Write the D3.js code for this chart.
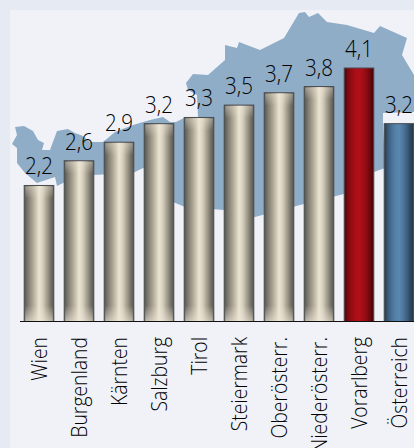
<!DOCTYPE html>
<html><head><meta charset="utf-8">
<script src="https://cdn.jsdelivr.net/npm/d3@7/dist/d3.min.js"></script>
<style>html,body{margin:0;padding:0;background:#e6ebf3;overflow:hidden}</style>
</head><body><script>
const categories = ["Wien","Burgenland","Kärnten","Salzburg","Tirol","Steiermark","Oberösterr.","Niederösterr.","Vorarlberg","Österreich"];
const values = [2.2,2.6,2.9,3.2,3.3,3.5,3.7,3.8,4.1,3.2];
const kinds = ["land","land","land","land","land","land","land","land","high","total"];
const mapOutline = [[12,144],[17,135],[15,127],[24,126],[33,131],[38,140],[44,143],[42,150],[50,150],[57,131],[68,129],[75,133],[83,136],[90,142],[103,142],[115,132],[133,125],[150,120],[163,117],[170,122],[176,122],[184,118],[198,117],[197,95],[188,90],[186,83],[193,74],[208,75],[225,60],[225,45],[237,48],[239,42],[260,50],[284,38],[299,13],[305,12],[309,17],[318,13],[327,22],[347,25],[374,33],[380,26],[407,38],[402,55],[414,75],[414,112],[383,113],[383,124],[385,168],[374,172],[344,194],[300,205],[255,217],[224,210],[185,207],[173,202],[160,180],[143,168],[133,173],[93,175],[63,183],[57,186],[55,177],[37,183],[25,173],[17,163],[17,148]];
const W=414,H=448;
const svg=d3.select("body").append("svg").attr("width",W).attr("height",H).style("display","block");
const defs=svg.append("defs");
function grad(id,cols){
  const g=defs.append("linearGradient").attr("id",id).attr("x1",0).attr("x2",1).attr("y1",0).attr("y2",0);
  cols.forEach((c,i)=>g.append("stop").attr("offset",i/(cols.length-1)).attr("stop-color",c));
}
grad("land",["#55544e","#7d7a6e","#a09a8b","#c4bdab","#ece4d3","#d6cfbd","#aaa495","#7d7a6e","#55544e"]);
grad("high",["#4a0508","#7a0a10","#960c14","#aa0e18","#b0101a","#a40e16","#8e0b12","#6a070c","#3e0306"]);
grad("total",["#25384c","#3a5a7a","#4a7096","#5480a8","#5888ae","#5078a0","#406488","#30485f","#22344a"]);
function fadeGrad(id,a,b){
  const f=defs.append("linearGradient").attr("id",id).attr("x1",0).attr("x2",0).attr("y1",0).attr("y2",1);
  f.append("stop").attr("offset",0).attr("stop-color","#efe8d8").attr("stop-opacity",a);
  f.append("stop").attr("offset",1).attr("stop-color","#efe8d8").attr("stop-opacity",b);
}
fadeGrad("fadeB",0,.65);
fadeGrad("fadeT",.4,0);

svg.append("rect").attr("x",10).attr("y",10).attr("width",W).attr("height",H).attr("fill","#f0f2f8");
svg.append("polygon").attr("points",mapOutline.map(p=>p.join(",")).join(" ")).attr("fill","#8fadc7");

const x=d3.scaleBand().domain(categories).range([19,419]).paddingInner(0.26).paddingOuter(0.13);
const baseY=321.5;
const y=d3.scaleLinear().domain([0,4.1]).range([baseY,68]);

const bars=svg.append("g");
bars.selectAll("rect.b").data(categories).join("rect").attr("class","b")
 .attr("x",d=>x(d)).attr("width",x.bandwidth())
 .attr("y",(d,i)=>y(values[i])).attr("height",(d,i)=>baseY-y(values[i]))
 .attr("fill",(d,i)=>`url(#${kinds[i]})`).attr("stroke","#4a4c50").attr("stroke-width",1);
const landCats=categories.filter((d,i)=>kinds[i]==="land");
bars.selectAll("rect.f").data(landCats).join("rect").attr("class","f")
 .attr("x",d=>x(d)+1).attr("width",x.bandwidth()-2)
 .attr("y",baseY-16).attr("height",16).attr("fill","url(#fadeB)");
bars.selectAll("rect.t").data(landCats).join("rect").attr("class","t")
 .attr("x",d=>x(d)+1).attr("width",x.bandwidth()-2)
 .attr("y",d=>y(values[categories.indexOf(d)])+1).attr("height",12).attr("fill","url(#fadeT)");

svg.append("line").attr("x1",20).attr("x2",W).attr("y1",baseY).attr("y2",baseY).attr("stroke","#111").attr("stroke-width",1);

const font="'Open Sans',sans-serif";
svg.selectAll("text.v").data(categories).join("text").attr("class","v")
 .attr("transform",(d,i)=>`translate(${x(d)+x.bandwidth()/2},${y(values[i])-11}) scale(.84,1)`)
 .attr("text-anchor","middle").attr("font-family",font).attr("font-weight",300).attr("font-size",24.5).attr("fill","#000")
 .text((d,i)=>d3.format(".1f")(values[i]).replace(".",","));

const axis=d3.axisBottom(x).tickSize(0).tickPadding(0);
const ax=svg.append("g").attr("transform",`translate(0,${baseY})`).call(axis);
ax.select(".domain").remove();
ax.selectAll("text").attr("font-family",font).attr("font-weight",300).attr("font-size",22.5).attr("fill","#000")
 .attr("text-anchor","end").attr("dy",null).attr("y",null)
 .attr("transform","translate(8,15.5) rotate(-90) scale(.86,1)");
</script></body></html>
